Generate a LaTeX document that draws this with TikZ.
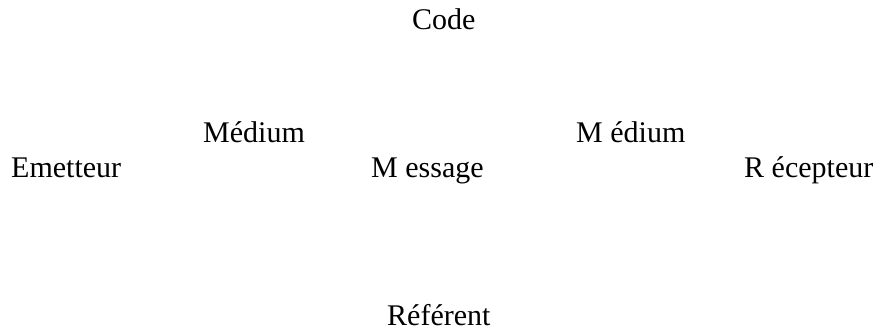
\documentclass[tikz,border=0pt]{standalone}
\usepackage{fontspec}
\setmainfont{Liberation Serif}
\usetikzlibrary{positioning}

\begin{document}
\begin{tikzpicture}[
    x=1pt,
    y=1pt,
    lbl/.style={
        anchor=base west,
        inner sep=0pt,
        font=\fontsize{30}{36}\selectfont
    }
]

\useasboundingbox (0,0) rectangle (882,332);

\node[lbl] (code) at (412,302) {Code};

\node[lbl] (medium1) at (203,189) {Médium};
\node[lbl] (medium2) at (576,189) {M édium};

\node[lbl] (emetteur) at (11,154) {Emetteur};
\node[lbl] (message) at (371,154) {M essage};
\node[lbl] (recepteur) at (744,154) {R écepteur};

\node[lbl] (referent) at (387,7) {Référent};

\end{tikzpicture}
\end{document}
